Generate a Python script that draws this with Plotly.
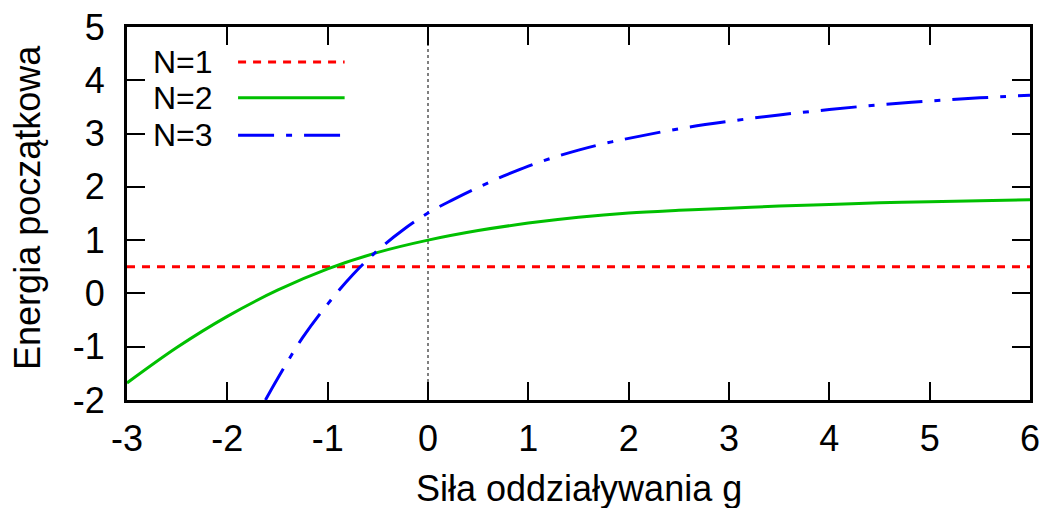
import plotly.graph_objects as go

# ---- data ----
g_n1 = [-3, 6]
e_n1 = [0.5, 0.5]

g_n2 = [-3, -2.5, -2, -1.5, -1, -0.5, 0, 0.5, 1, 1.5, 2, 2.5, 3, 3.5, 4, 4.5, 5, 5.5, 6]
e_n2 = [-1.68, -1.01, -0.43, 0.06, 0.46, 0.77, 1.0, 1.18, 1.32, 1.43, 1.51, 1.56, 1.60,
        1.64, 1.67, 1.70, 1.72, 1.74, 1.76]

g_n3 = [-1.62, -1.5, -1.25, -1.0, -0.75, -0.5, -0.25, 0, 0.25, 0.5, 0.75, 1, 1.25, 1.5,
        1.75, 2, 2.5, 3, 3.5, 4, 4.5, 5, 5.5, 6]
e_n3 = [-2.0, -1.60, -0.83, -0.20, 0.35, 0.81, 1.19, 1.51, 1.76, 1.99, 2.20, 2.39, 2.55,
        2.69, 2.81, 2.91, 3.09, 3.23, 3.35, 3.45, 3.54, 3.61, 3.67, 3.72]

x_ticks = [-3, -2, -1, 0, 1, 2, 3, 4, 5, 6]
y_ticks = [-2, -1, 0, 1, 2, 3, 4, 5]

names = ["N=1", "N=2", "N=3"]
colors = ["#ff0000", "#00c000", "#0000ff"]
dashes = ["8px,7px", "solid", "36px,12px,6px,12px"]

x_title = "Siła oddziaływania g"
y_title = "Energia początkowa"

FONT = "Liberation Sans, Arial, Helvetica, sans-serif"
FS = 36
LEG_FS = 32

fig = go.Figure()
for gx, ey, nm, c, d in zip([g_n1, g_n2, g_n3], [e_n1, e_n2, e_n3], names, colors, dashes):
    fig.add_trace(go.Scatter(x=gx, y=ey, mode="lines", name=nm,
                             line=dict(color=c, width=3, dash=d, shape="spline", smoothing=1.0),
                             showlegend=False))

# vertical dotted zero axis
fig.add_shape(type="line", xref="x", yref="paper", x0=0, x1=0, y0=0, y1=1,
              line=dict(color="black", width=1, dash="3px,3px"), layer="below")

# gnuplot-style legend (text left, sample right)
leg_y = [0.906, 0.810, 0.710]
for nm, c, d, yy in zip(names, colors, dashes, leg_y):
    fig.add_annotation(xref="paper", yref="paper", x=0.0975, y=yy, text=nm,
                       showarrow=False, xanchor="right", yanchor="middle",
                       font=dict(family=FONT, size=LEG_FS, color="black"))
    fig.add_shape(type="line", xref="paper", yref="paper", x0=0.123, x1=0.241, y0=yy, y1=yy,
                  line=dict(color=c, width=3, dash=d))

# axis titles
fig.add_annotation(xref="paper", yref="paper", x=0.5, y=-0.237, text=x_title,
                   showarrow=False, xanchor="center", yanchor="middle",
                   font=dict(family=FONT, size=FS, color="black"))
fig.add_annotation(xref="paper", yref="paper", x=-0.1096, y=0.515, text=y_title,
                   showarrow=False, xanchor="center", yanchor="middle", textangle=-90,
                   font=dict(family=FONT, size=FS, color="black"))

axis_common = dict(showline=True, linewidth=3, linecolor="black", mirror="ticks",
                   ticks="inside", ticklen=18, tickwidth=1.5, tickcolor="black",
                   showgrid=False, zeroline=False,
                   tickfont=dict(family=FONT, size=FS, color="black"))

fig.update_xaxes(range=[-3, 6], tickvals=x_ticks, ticktext=[str(v) for v in x_ticks],
                 ticklabelstandoff=5, **axis_common)
fig.update_yaxes(range=[-2, 5], tickvals=y_ticks, ticktext=[str(v) for v in y_ticks],
                 ticklabelstandoff=12, **axis_common)

fig.update_layout(width=1046, height=508, margin=dict(l=127, r=16, t=27, b=108, autoexpand=False),
                  plot_bgcolor="white", paper_bgcolor="white",
                  font=dict(family=FONT, size=FS, color="black"))

fig.write_html("out.html")
